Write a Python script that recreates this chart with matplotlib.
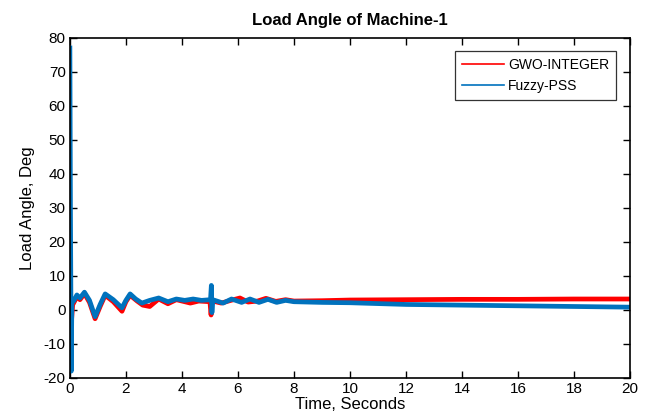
import matplotlib
matplotlib.use('Agg')
import matplotlib.pyplot as plt

plt.rcParams['font.family'] = ['Liberation Sans', 'DejaVu Sans']
plt.rcParams['axes.unicode_minus'] = False

# Rotor angle response of machine 1 (degrees vs seconds)
t_gwo = [0, 0.03, 0.06, 0.1, 0.25, 0.36, 0.52, 0.7, 0.9, 1.08, 1.26, 1.55, 1.86, 2.0, 2.15,
         2.4, 2.6, 2.85, 3.17, 3.5, 3.8, 4.0, 4.3, 4.6, 5.0, 5.04, 5.07, 5.1,
         5.4, 5.75, 6.07, 6.36, 6.7, 7.0, 7.35, 7.7, 8.0, 9.0, 10.0, 12.0, 14.0, 16.0, 18.0, 20.0]
delta_gwo = [0, -8, -3, 1.5, 3.8, 3.0, 4.8, 2.2, -2.6, 1.0, 4.3, 2.4, -0.4, 2.4, 4.3,
             2.6, 1.4, 1.0, 3.2, 1.8, 3.0, 2.6, 2.0, 2.6, 2.4, -1.5, 2.8, 2.6,
             2.0, 2.8, 3.5, 2.3, 2.6, 3.4, 2.5, 3.0, 2.6, 2.7, 2.9, 3.0, 3.1, 3.1, 3.2, 3.2]

t_fuzzy = [0, 0.02, 0.05, 0.07, 0.15, 0.25, 0.36, 0.52, 0.7, 0.9, 1.08, 1.26, 1.55, 1.86, 2.0,
           2.15, 2.35, 2.57, 2.85, 3.17, 3.5, 3.8, 4.1, 4.4, 4.7, 5.02, 5.05, 5.07, 5.1,
           5.47, 5.77, 6.13, 6.43, 6.75, 7.07, 7.38, 7.7, 8.0, 9.0, 10.0, 12.0, 14.0, 16.0, 18.0, 20.0]
delta_fuzzy = [77, 30, -18, 2.0, 2.8, 4.4, 3.5, 5.2, 2.8, -2.0, 1.6, 4.7, 3.0, 0.6, 2.8,
               4.7, 3.2, 2.0, 2.8, 3.5, 2.4, 3.2, 2.8, 3.2, 2.8, 3.0, 7.2, -0.8, 3.0,
               2.0, 3.2, 2.2, 3.2, 2.2, 3.1, 2.2, 2.8, 2.4, 2.2, 2.1, 1.6, 1.4, 1.2, 1.0, 0.8]

fig = plt.figure(figsize=(6.47, 4.19), dpi=100)
ax = fig.add_axes([0.108, 0.098, 0.866, 0.812])

ax.plot(t_gwo, delta_gwo, color='#ff0000', lw=3.4, solid_joinstyle='round',
        label='GWO-INTEGER')
ax.plot(t_fuzzy, delta_fuzzy, color='#0072bd', lw=3.4, solid_joinstyle='round',
        label='Fuzzy-PSS')

ax.set_xlim(0, 20)
ax.set_ylim(-20, 80)
ax.set_xticks(range(0, 21, 2))
ax.set_yticks(range(-20, 81, 10))
ax.tick_params(direction='in', top=True, right=True, length=5, width=1,
               labelsize=11, pad=3)
for s in ax.spines.values():
    s.set_linewidth(1.2)

ax.set_title('Load Angle of Machine-1', fontsize=12, fontweight='bold', pad=9)
ax.set_xlabel('Time, Seconds', fontsize=12, labelpad=1)
ax.set_ylabel('Load Angle, Deg', fontsize=12, labelpad=6)

leg = ax.legend(loc='upper right', bbox_to_anchor=(0.975, 0.96), fontsize=10,
                frameon=True, fancybox=False, handlelength=3.0, handletextpad=0.3,
                borderpad=0.5, labelspacing=0.5, borderaxespad=0)
leg.get_frame().set_edgecolor('black')
leg.get_frame().set_linewidth(0.9)
for h in leg.get_lines():
    h.set_linewidth(1.2)

fig.savefig('out.png', dpi=100)
